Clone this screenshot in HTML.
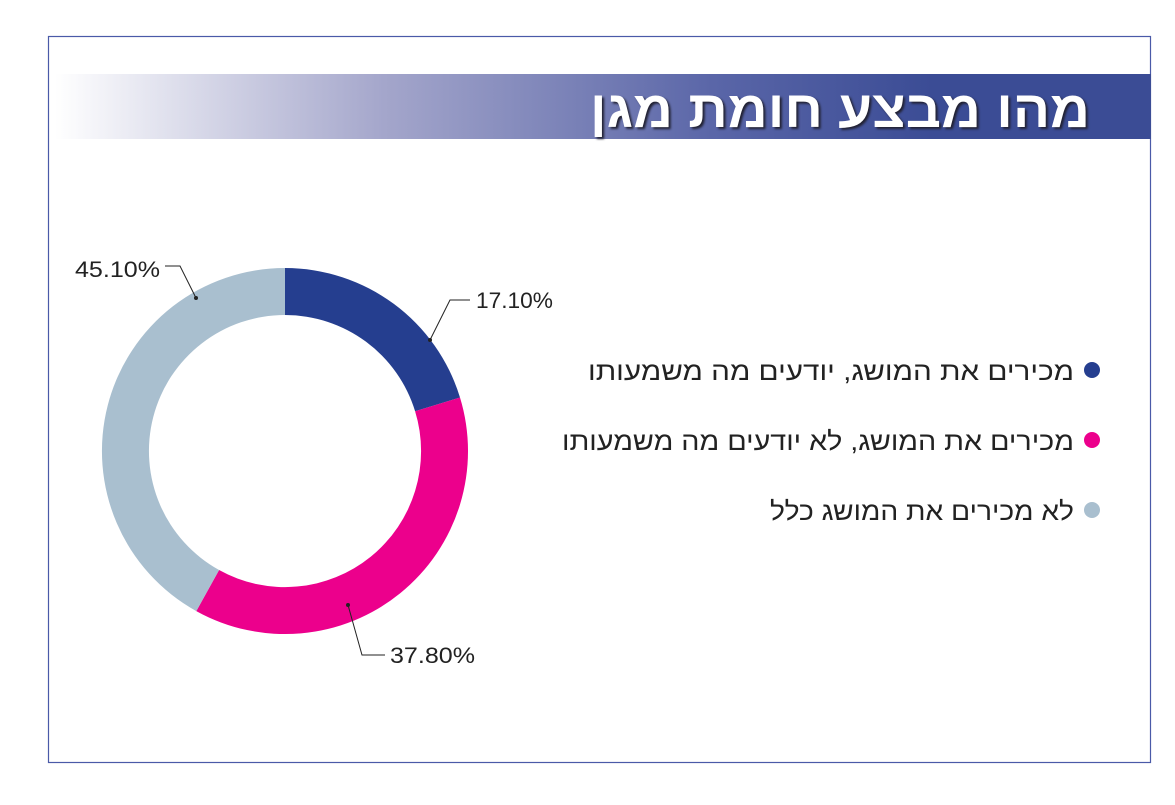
<!DOCTYPE html>
<html><head><meta charset="utf-8"><style>
body{margin:0;width:1175px;height:800px;background:#fff;overflow:hidden;font-family:"Liberation Sans","Noto Sans CJK JP",sans-serif}
</style></head><body>
<svg width="1175" height="800" xmlns="http://www.w3.org/2000/svg">
<defs><linearGradient id="g" x1="0" x2="1" y1="0" y2="0">
<stop offset="0" stop-color="#fff"/><stop offset="0.3" stop-color="#a4a6cb"/><stop offset="0.6" stop-color="#5a66a8"/><stop offset="0.8" stop-color="#3b4c95"/><stop offset="1" stop-color="#3b4c95"/></linearGradient></defs>
<rect x="48.5" y="36.5" width="1102" height="726" fill="none" stroke="#4a5aa8" stroke-width="1.2"/>
<rect x="55" y="74" width="1096" height="65" fill="url(#g)"/>
<text x="1090" y="127" text-anchor="end" font-size="52" font-weight="bold" fill="#fff" textLength="500" lengthAdjust="spacingAndGlyphs" style="text-shadow:2px 2px 2px #223">מהו מבצע חומת מגן</text>
<path d="M285 268 A183 183 0 0 1 460 397.5 L415.1 411.2 A136 136 0 0 0 285 315 Z" fill="#253e8f"/>
<path d="M460 397.5 A183 183 0 0 1 196.3 611.1 L219.1 570 A136 136 0 0 0 415.1 411.2 Z" fill="#ec008c"/>
<path d="M196.3 611.1 A183 183 0 0 1 285 268 L285 315 A136 136 0 0 0 219.1 570 Z" fill="#a9bfcf"/>
<g stroke="#222" stroke-width="1" fill="none">
<polyline points="430,340 450,300 470,300"/>
<polyline points="196,298 180,266 165,266"/>
<polyline points="348,605 362,655 385,655"/>
</g>
<g fill="#222" font-size="22"><circle cx="430" cy="340" r="2"/><circle cx="196" cy="298" r="2"/><circle cx="348" cy="605" r="2"/>
<text x="476" y="308" textLength="77" lengthAdjust="spacingAndGlyphs">17.10%</text>
<text x="75" y="277" textLength="85" lengthAdjust="spacingAndGlyphs">45.10%</text>
<text x="390" y="663" textLength="85" lengthAdjust="spacingAndGlyphs">37.80%</text></g>
<g font-size="26" fill="#222" text-anchor="end">
<circle cx="1092" cy="370" r="8" fill="#253e8f"/><text x="1074" y="380" textLength="486" lengthAdjust="spacingAndGlyphs">מכירים את המושג, יודעים מה משמעותו</text>
<circle cx="1092" cy="440" r="8" fill="#ec008c"/><text x="1074" y="450" textLength="512" lengthAdjust="spacingAndGlyphs">מכירים את המושג, לא יודעים מה משמעותו</text>
<circle cx="1092" cy="510" r="8" fill="#a9bfcf"/><text x="1074" y="520" textLength="304" lengthAdjust="spacingAndGlyphs">לא מכירים את המושג כלל</text>
</g>
</svg>
</body></html>
